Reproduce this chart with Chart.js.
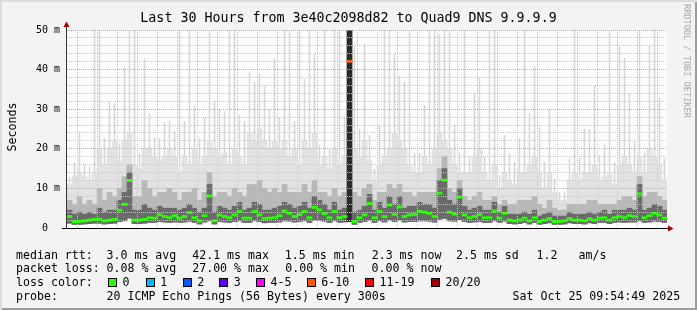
<!DOCTYPE html>
<html>
<head>
<meta charset="utf-8">
<script src="https://cdn.jsdelivr.net/npm/chart.js@4.4.1/dist/chart.umd.min.js"></script>
<style>
  html,body{margin:0;padding:0;background:#f3f3f3;}
  #wrap{position:relative;width:697px;height:310px;background:#f3f3f3;
        box-shadow: inset 2px 2px 0 #dcdcdc, inset -2px -2px 0 #9c9c9c;overflow:hidden;}
  #c{position:absolute;left:0;top:0;}
  .t{position:absolute;font-family:"DejaVu Sans Mono",monospace;color:#000;white-space:pre;}
  #title{left:0;width:697px;text-align:center;top:10px;font-size:13.3px;line-height:16px;}
  #ylab{left:-23px;top:120px;width:70px;text-align:center;font-size:11.6px;line-height:14px;transform:rotate(-90deg);}
  #credit{left:682px;top:4px;font-size:8.6px;color:#aaaaaa;writing-mode:vertical-rl;line-height:10px;}
  .lg{font-size:11.6px;line-height:14px;}
  .box{position:absolute;width:7px;height:7px;border:1px solid #000;}
</style>
</head>
<body>
<div id="wrap">
  <canvas id="c" width="697" height="310"></canvas>
  <div class="t" id="title">Last 30 Hours from 3e40c2098d82 to Quad9 DNS 9.9.9.9</div>
  <div class="t" id="ylab">Seconds</div>
  <div class="t" id="credit">RRDTOOL / TOBI OETIKER</div>
  <div id="legend"></div>
</div>
<script>
// ---------------- DATA ----------------
// time axis: 120 bins of 15 minutes, hours counted from Fri 00:00
const binStartHour = 3.95;
const binHours = 0.25;

// median RTT (ms)
const medianRtt = [
2.9,1.6,1.6,1.8,2.0,2.2,2.2,1.8,2.0,2.2,4.5,6.0,12.0,2.0,2.0,2.2,2.6,2.5,3.4,2.9,
2.6,3.1,2.5,2.9,3.9,2.6,1.8,3.1,8.1,1.8,3.3,2.9,2.6,3.3,4.2,2.5,2.5,4.2,3.3,2.4,
2.5,2.6,3.1,4.3,3.7,2.9,3.4,4.2,2.6,5.2,4.6,3.6,2.6,4.2,2.6,2.9,42.1,1.6,2.6,3.3,
6.2,2.6,4.2,2.9,5.8,3.4,5.3,2.9,3.3,3.4,4.2,4.0,3.7,2.9,8.8,12.1,4.0,3.5,7.8,3.3,
2.6,2.9,3.4,2.6,2.6,4.3,2.5,3.7,2.0,1.8,2.0,2.5,1.8,2.6,1.6,2.0,2.4,1.6,1.6,1.8,
2.4,2.0,2.0,1.8,2.4,2.0,2.5,2.6,2.0,2.6,2.9,2.6,3.1,2.9,8.6,2.6,3.1,3.7,3.3,2.5];

// smoke: lowest ping (ms)
const minRtt = [
1.2,0.9,0.9,1.0,1.1,1.2,1.2,1.0,1.1,1.2,1.6,1.8,2.5,1.1,1.1,1.2,1.4,1.4,1.6,1.5,
1.4,1.5,1.4,1.5,1.7,1.4,1.0,1.5,1.8,1.0,1.6,1.5,1.4,1.6,1.8,1.4,1.4,1.8,1.6,1.3,
1.4,1.4,1.5,1.8,1.7,1.5,1.6,1.8,1.4,2.0,1.9,1.7,1.4,1.8,1.4,1.5,1.6,0.9,1.4,1.6,
2.0,1.4,1.8,1.5,2.0,1.6,2.0,1.5,1.6,1.6,1.8,1.8,1.7,1.5,2.2,2.4,1.8,1.7,2.1,1.6,
1.4,1.5,1.6,1.4,1.4,1.8,1.4,1.7,1.1,1.0,1.1,1.4,1.0,1.4,0.9,1.1,1.3,0.9,0.9,1.0,
1.3,1.1,1.1,1.0,1.3,1.1,1.4,1.4,1.1,1.4,1.5,1.4,1.5,1.5,1.8,1.4,1.5,1.7,1.6,1.4];

// smoke: highest ping (ms) – thin spikes
const maxRtt = [
13,16.4,24.4,16,15.6,52,52,22.7,31.9,31.5,21.4,40.7,52,52,18.9,42.8,29,23,22.7,26.7,
27,24.4,52,27,52,31,22.7,28,52,32,30,29.5,52,52,28.5,27,39.5,37,39,36,
30,42.8,28,52,52,27,52,37.6,52,44,21,52,20,52,52,28,52,46,25,46.5,
23.5,15,26,52,52,44,38.5,37,52,19,18.9,31,52,52,49,52,52,26,19,52,
18,34,38,18,52,52,13.4,23.5,19,16.7,22.7,52,29,41,25.6,16.7,30,12.5,9,9,
17.6,52,17.6,25,25,36,18.5,21,52,16.7,46,43,34,22,52,19,46,52,33,17.6];

// smoke: upper ping ranks (ms)
const highRtt = [
11,13,14,13,12,14,20,16,20,22,17,22,24,16,15,20,20,18,17,18,
20,18,14,18,16,20,16,18,22,20,18,19,16,20,18,16,24,22,25,22,
20,22,20,22,18,20,16,22,20,24,16,18,15,20,16,18,20,20,18,22,
17,12,16,18,20,24,22,20,16,14,14,18,16,20,24,22,20,16,14,14,
14,18,20,14,12,16,10,14,12,11,14,14,16,18,14,10,14,9,7,7,
12,14,12,14,14,16,12,13,14,11,16,18,16,14,18,14,20,18,16,12];

const midRtt = [
7,6,8,6,7,6,10,7,9,8,10,13,16,8,8,12,10,8,9,9,
10,9,7,9,9,10,7,9,14,8,9,9,8,10,9,8,11,11,12,10,
9,10,9,11,9,9,9,11,9,12,9,9,8,10,8,9,50,9,8,10,
11,7,9,9,11,10,11,9,9,8,9,9,9,9,15,18,10,9,12,8,
7,8,9,7,7,8,6,7,6,6,7,7,7,8,6,5,7,5,4.5,4.5,
6,6,6,6,7,7,6,6,6,6,7,8,8,7,13,8,9,9,8,7];

const nearRtt = [
4.5,3.5,4,3.5,4,3.5,5,4,4.5,4.5,7,9,14,4.5,4.5,6,5,4.5,5.5,5,
5,5,4.5,5,6,5,4,5,11,4,5.5,5,4.5,5.5,6.5,4.5,5,6.5,6,4.5,
4.5,5,5.5,6.5,6,5,5.5,6.5,5,8,7,6,4.5,6.5,4.5,5,50,4,4.5,5.5,
8.5,4.5,6.5,5,8,6,8,5,5.5,5.5,6.5,6,6,5,12,15,7,6,10,5.5,
4.5,5,5.5,4.5,4.5,6.5,4,5.5,3.5,3.5,3.5,4,3.5,4.5,3,3.5,4,3,3,3,
4,3.5,3.5,3.5,4,3.5,4,4.5,3.5,4.5,4.5,4.5,5,4.5,11,4.5,5,6,5.5,4.5];

// lost pings (of 20) per bin
const lostPings = [
0,0,0,0,0,0,0,0,0,0,0,0,0,0,0,0,0,0,0,0,
0,0,0,0,0,0,0,0,0,0,0,0,0,0,0,0,0,0,0,0,
0,0,0,0,0,0,0,0,0,0,0,0,0,0,0,0,6,0,0,0,
0,0,0,0,0,0,0,0,0,0,0,0,0,0,0,0,0,0,0,0,
0,0,0,0,0,0,0,0,0,0,0,0,0,0,0,0,0,0,0,0,
0,0,0,0,0,0,0,0,0,0,0,0,0,0,0,0,0,0,0,0];

const lossLabels = ['0','1','2','3','4-5','6-10','11-19','20/20'];
const lossUpper  = [0,1,2,3,5,10,19,20];
const lossColors = ['#26ff00','#00b8ff','#0059ff','#5e00ff','#ff00ff','#ff5500','#ff0000','#a10000'];

const xTickHours  = [6,12,18,24,30];
const xTickLabels = ['Fri 06:00','Fri 12:00','Fri 18:00','Sat 00:00','Sat 06:00'];
const yTickValues = [0,10,20,30,40,50];
const yTickLabels = ['0  ','10 m','20 m','30 m','40 m','50 m'];

const statsLines = [
  [[16,'median rtt:'],[106.5,'3.0 ms avg'],[192.2,'42.1 ms max'],[284.8,'1.5 ms min'],[371.7,'2.3 ms now'],[456,'2.5 ms sd'],[536.5,'1.2'],[578.6,'am/s']],
  [[16,'packet loss:'],[106.5,'0.08 % avg'],[192.2,'27.00 % max'],[285.2,'0.00 % min'],[371.6,'0.00 % now']],
  [[16,'loss color:']],
  [[16,'probe:'],[106.5,'20 ICMP Echo Pings (56 Bytes) every 300s'],[512.6,'Sat Oct 25 09:54:49 2025']]
];
const legendBoxX = [108,145.7,182.7,219.3,256,306.7,365,431];

// ---------------- LEGEND (HTML text) ----------------
const lg = document.getElementById('legend');
const lineTops = [247.5,261.4,275.3,289.2];
statsLines.forEach((segs, li) => {
  segs.forEach(([x, txt]) => {
    const d = document.createElement('div');
    d.className = 't lg'; d.style.left = x + 'px'; d.style.top = lineTops[li] + 'px';
    d.textContent = txt; lg.appendChild(d);
  });
});
lossLabels.forEach((lab, k) => {
  const b = document.createElement('div');
  b.className = 'box'; b.style.left = legendBoxX[k] + 'px'; b.style.top = '278px';
  b.style.background = lossColors[k]; lg.appendChild(b);
  const d = document.createElement('div');
  d.className = 't lg'; d.style.left = (legendBoxX[k] + 14.5) + 'px'; d.style.top = lineTops[2] + 'px';
  d.textContent = lab; lg.appendChild(d);
});

// ---------------- CHART ----------------
const binCenter = i => binStartHour + binHours * (i + 0.5);
const smoke = top => top.map((v, i) => ({x: binCenter(i), y: [minRtt[i], v]}));
const lossColor = n => { for (let k = 0; k < lossUpper.length; k++) if (n <= lossUpper[k]) return lossColors[k]; return lossColors[lossColors.length-1]; };

const plotBg = {
  id: 'plotBg',
  beforeDraw(chart) {
    const {ctx, chartArea: a} = chart;
    ctx.save(); ctx.fillStyle = '#ffffff';
    ctx.fillRect(a.left, a.top, a.right - a.left, a.bottom - a.top);
    ctx.restore();
  }
};
const axisDecor = {
  id: 'axisDecor',
  afterDraw(chart) {
    const {ctx, chartArea: a} = chart;
    ctx.save();
    ctx.strokeStyle = '#000'; ctx.lineWidth = 1;
    ctx.beginPath(); ctx.moveTo(a.left - 5, a.bottom + 0.5); ctx.lineTo(a.right + 2, a.bottom + 0.5); ctx.stroke();
    ctx.strokeStyle = '#333';
    ctx.beginPath(); ctx.moveTo(a.left - 0.5, a.bottom + 1); ctx.lineTo(a.left - 0.5, a.top - 4); ctx.stroke();
    ctx.fillStyle = '#a00000';
    ctx.beginPath(); ctx.moveTo(a.right + 1, a.bottom - 2.5); ctx.lineTo(a.right + 6.5, a.bottom + 0.5); ctx.lineTo(a.right + 1, a.bottom + 3.5); ctx.closePath(); ctx.fill();
    ctx.beginPath(); ctx.moveTo(a.left - 3.5, a.top - 3); ctx.lineTo(a.left - 0.5, a.top - 8.5); ctx.lineTo(a.left + 2.5, a.top - 3); ctx.closePath(); ctx.fill();
    ctx.restore();
  }
};

const base = {categoryPercentage: 1, barPercentage: 1, grouped: false, borderWidth: 0};
new Chart(document.getElementById('c'), {
  type: 'bar',
  data: {
    datasets: [
      Object.assign({}, base, {label: 'max', data: smoke(maxRtt), backgroundColor: '#d6d6d6', barPercentage: 0.32, order: 5}),
      Object.assign({}, base, {label: 'high', data: smoke(highRtt), backgroundColor: '#e2e2e2', order: 4}),
      Object.assign({}, base, {label: 'mid', data: smoke(midRtt), backgroundColor: '#b8b8b8', order: 3}),
      Object.assign({}, base, {label: 'near', data: smoke(nearRtt),
        backgroundColor: c => (nearRtt[c.dataIndex] >= 40 ? '#2a2a2a' : '#6a6a6a'), order: 2}),
      Object.assign({}, base, {label: 'median',
        data: medianRtt.map((m, i) => ({x: binCenter(i), y: [m - 0.27, m + 0.27]})),
        backgroundColor: c => lossColor(lostPings[c.dataIndex]), order: 1})
    ]
  },
  options: {
    responsive: false, animation: false, events: [],
    layout: {padding: {top: 30, right: 30, left: 0, bottom: 0}},
    plugins: {legend: {display: false}, tooltip: {enabled: false}, title: {display: false}},
    scales: {
      x: {
        type: 'linear', min: binStartHour, max: binStartHour + binHours * medianRtt.length, offset: false,
        afterFit: s => { s.height = 82; },
        grid: {z: 1, drawTicks: false, lineWidth: 1,
               color: c => (c.tick && c.tick.value % 3 === 0) ? '#e59a9a' : '#c6c6c6'},
        border: {display: false, dash: [1, 1]},
        ticks: {stepSize: 1, includeBounds: false, autoSkip: false, maxRotation: 0, minRotation: 0, padding: 6,
                color: '#000', font: {family: 'DejaVu Sans Mono', size: 10},
                callback: v => { const k = xTickHours.indexOf(v); return k >= 0 ? xTickLabels[k] : ''; }}
      },
      y: {
        min: 0, max: 50,
        afterFit: s => { s.width = 67; },
        grid: {z: 1, drawTicks: false, lineWidth: 1,
               color: c => (c.tick && c.tick.value % 10 === 0) ? '#e59a9a' : '#c6c6c6'},
        border: {display: false, dash: [1, 1]},
        ticks: {stepSize: 2, autoSkip: false, padding: 7, color: '#000',
                font: {family: 'DejaVu Sans Mono', size: 10},
                callback: v => { const k = yTickValues.indexOf(v); return k >= 0 ? yTickLabels[k] : ''; }}
      }
    }
  },
  plugins: [plotBg, axisDecor]
});
</script>
</body>
</html>
